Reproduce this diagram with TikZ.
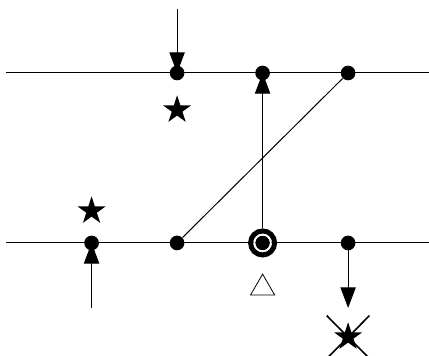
\documentclass[tikz,border=0pt]{standalone}
\usetikzlibrary{arrows.meta,shapes.geometric}

\begin{document}
\begin{tikzpicture}[x=2.254cm, y=2.24cm, line width=0.75pt,
  v/.style={circle, fill=black, inner sep=0pt, minimum size=11pt},
  s/.style={star, star points=5, star point ratio=2.618, fill=black, inner sep=0pt, minimum size=22pt},
  tri/.style={regular polygon, regular polygon sides=3, draw, line width=0.6pt, inner sep=0pt, minimum size=20.8pt},
  ring/.style={circle, draw, inner sep=0pt},
  >={Triangle[length=15.5pt,width=11.5pt]}]
\useasboundingbox (-0.071,-0.329) rectangle (4.946,3.859);
\coordinate (l1) at (0,1); \coordinate (r1) at (4.953,1);
\coordinate (l3) at (0,3); \coordinate (r3) at (4.953,3);
\coordinate (in1) at (2,3.753); \coordinate (in2) at (1,0.235);
\coordinate (o) at (4,-0.106);
\draw (l1) -- (r1); \draw (l3) -- (r3);
\foreach \x in {1,2,4} \node[v] (a\x) at (\x,1) {};
\foreach \x in {2,3,4} \node[v] (b\x) at (\x,3) {};
\node[v] (a3) at (3,1) {};
\node[ring, line width=3.75pt, minimum size=18pt] (w) at (3,1) {};
\node[ring, draw=white, line width=1.1pt, minimum size=12.3pt] (wi) at (3,1) {};
\draw (a2) -- (b4);
\draw[->] (in1) -- (b2.center);
\draw[->] (in2) -- (a1.center);
\draw[->] (w) -- (b3.center);
\draw[->] (a4.center) -- (4,0.235) coordinate (t);
\node[s] (s1) at (2,2.565) {};
\node[s] (s2) at (1,1.376) {};
\node[s] (s3) at (o) {};
\node[tri] (d) at (3,0.47) {};
\draw[line width=1.2pt] (4.25,0.145) -- (3.75,-0.36);
\draw[line width=1.2pt] (3.75,0.145) -- (4.25,-0.36);
\end{tikzpicture}
\end{document}
